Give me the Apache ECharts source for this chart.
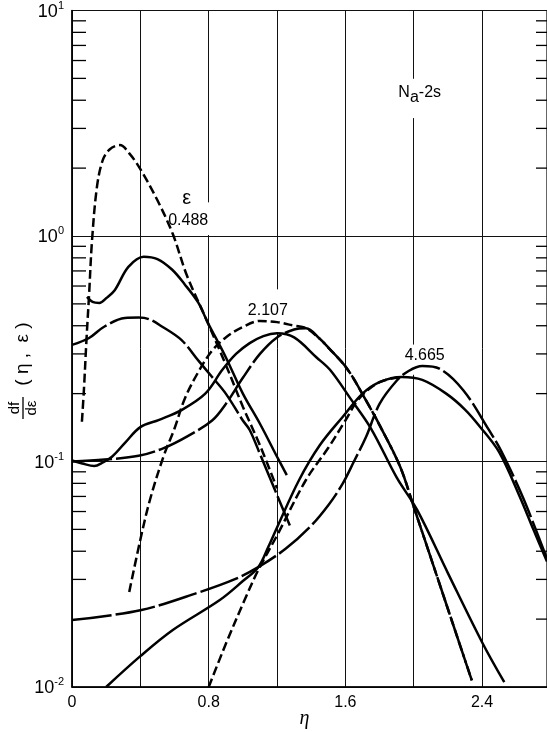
<!DOCTYPE html>
<html><head><meta charset="utf-8">
<script src="https://cdn.jsdelivr.net/npm/echarts@6/dist/echarts.min.js"></script>
<style>html,body{margin:0;padding:0;background:#fff}#c{width:547px;height:732px}</style>
</head><body><div id="c"></div>
<script>
// ---------- data (eta, df/deps) ----------
// epsilon = 0.488
const e488DashX  = [0.058,0.07,0.085,0.1,0.117,0.146,0.18,0.22,0.28,0.34,0.4,0.5,0.59,0.672,0.79,0.906,1.0,1.1,1.2];
const e488DashY  = [0.15,0.21,0.35,0.55,0.95,1.65,2.17,2.42,2.53,2.3,1.98,1.44,1.02,0.67,0.42,0.262,0.175,0.118,0.076];
const e488SolidX = [0.088,0.12,0.16,0.2,0.25,0.33,0.42,0.5,0.585,0.66,0.74,0.79,0.9,1.0,1.1,1.2,1.257];
const e488SolidY = [0.537,0.51,0.505,0.53,0.575,0.73,0.81,0.79,0.71,0.61,0.505,0.42,0.29,0.2,0.147,0.105,0.087];
const e488LongX  = [0,0.1,0.19,0.31,0.39,0.45,0.526,0.64,0.74,0.82,0.9,1.0,1.04,1.1,1.2,1.275];
const e488LongY  = [0.329,0.353,0.397,0.433,0.435,0.428,0.397,0.346,0.28,0.237,0.2,0.152,0.138,0.108,0.071,0.052];
// epsilon = 2.107
const e2107DashX  = [0.335,0.4,0.456,0.535,0.6,0.66,0.74,0.82,0.9,1.0,1.1,1.2,1.3,1.37,1.45,1.5,1.61,1.72,1.8,1.92,2.0,2.13,2.24,2.34];
const e2107DashY  = [0.0264,0.045,0.0675,0.105,0.14,0.19,0.25,0.31,0.355,0.395,0.42,0.415,0.40,0.39,0.35,0.32,0.258,0.187,0.145,0.095,0.063,0.032,0.018,0.0107];
const e2107LongX  = [0,0.19,0.39,0.54,0.68,0.82,0.9,1.0,1.1,1.2,1.3,1.37,1.45,1.5,1.61,1.72,1.8,1.92,2.0,2.13,2.24,2.34];
const e2107LongY  = [0.1,0.102,0.106,0.115,0.13,0.152,0.18,0.235,0.3,0.355,0.385,0.39,0.35,0.32,0.258,0.187,0.145,0.095,0.063,0.032,0.018,0.0107];
const e2107SolidX = [0,0.06,0.13,0.18,0.234,0.31,0.4,0.51,0.64,0.78,0.88,0.96,1.04,1.12,1.2,1.3,1.43,1.51,1.63,1.75,1.9,2.02,2.2,2.4,2.53];
const e2107SolidY = [0.101,0.098,0.0955,0.099,0.105,0.121,0.142,0.153,0.169,0.2,0.255,0.3,0.335,0.36,0.37,0.355,0.29,0.255,0.19,0.14,0.085,0.061,0.032,0.0158,0.0105];
// epsilon = 4.665
const e4665SolidX = [0.2,0.4,0.59,0.865,1.0,1.09,1.15,1.2,1.33,1.45,1.585,1.7,1.8,1.93,2.05,2.19,2.3,2.39,2.5,2.62,2.7,2.78];
const e4665SolidY = [0.01,0.0137,0.0179,0.0243,0.0295,0.034,0.042,0.051,0.083,0.118,0.158,0.2,0.225,0.237,0.23,0.2,0.17,0.142,0.11,0.07,0.05,0.036];
const e4665DashX  = [0.8,0.9,1.01,1.09,1.2,1.37,1.5,1.6,1.68,1.8,1.93];
const e4665DashY  = [0.01,0.0155,0.0243,0.033,0.047,0.083,0.115,0.152,0.19,0.225,0.237];
const e4665LongX  = [0,0.4,0.75,0.95,1.09,1.25,1.39,1.5,1.585,1.65,1.72,1.8,1.9,1.97,2.05,2.15,2.29,2.44,2.51,2.64,2.78];
const e4665LongY  = [0.0198,0.0219,0.0264,0.03,0.034,0.041,0.051,0.064,0.08,0.1,0.128,0.18,0.228,0.252,0.265,0.258,0.207,0.138,0.112,0.069,0.037];
// axes
const etaLabelTicks = [0, 0.8, 1.6, 2.4];
const yMinorLeft  = [0.03,0.04,0.05,0.06,0.07,0.08,0.09,0.2,0.3,0.4,0.5,0.6,0.7,0.8,0.9,2,3,4,5,6,7,8,9];
const yMinorRight = [0.02,0.03,0.04,0.05,0.06,0.07,0.08,0.09,0.2,0.3,0.4,0.5,0.6,0.7,0.8,0.9,2,3,4,5,6,7,8,9];
const curveLabels = [
  {text:'ε',     x:0.672, y:1.47,  size:20},
  {text:'0.488', x:0.68,  y:1.166, size:16},
  {text:'2.107', x:1.146, y:0.465, size:16},
  {text:'4.665', x:2.064, y:0.296, size:16}
];

// ---------- chart ----------
const FONT = 'Liberation Sans, Arial, sans-serif';
const chart = echarts.init(document.getElementById('c'), null, {renderer:'canvas'});
const pairs = (xs, ys) => xs.map((x, i) => [x, ys[i]]);
const SOLID = {color:'#000', width:2.5, type:'solid'};
const DASH  = {color:'#000', width:2.5, type:[9,4]};
const LONG  = {color:'#000', width:2.5, type:[40,4]};
function curve(xs, ys, style){
  return {type:'line', data:pairs(xs, ys), showSymbol:false, symbol:'none', smooth:0.35,
          lineStyle:style, z:3, silent:true, clip:true};
}
function tickSeries(values, side, len){
  return {type:'custom', data:values.map(v => [0, v]), silent:true, clip:false, z:4,
    renderItem(params, api){
      const p = api.coord([0, api.value(1)]);
      const cs = params.coordSys;
      const x0 = side === 'left' ? cs.x : cs.x + cs.width;
      const x1 = side === 'left' ? x0 + len : x0 - len;
      return {type:'line', shape:{x1:x0, y1:p[1], x2:x1, y2:p[1]}, style:{stroke:'#000', lineWidth:1.3}};
    }};
}
const supText = v => {
  const e = Math.round(Math.log10(v));
  return '{b|10}{s|' + (e < 0 ? '-' + (-e) : e) + '}';
};
chart.setOption({
  animation:false,
  backgroundColor:'#fff',
  grid:{left:72, right:0, top:10, bottom:45, show:true, borderColor:'#000', borderWidth:1.2},
  xAxis:{type:'value', min:0, max:2.78, interval:0.4,
    axisLine:{show:true, lineStyle:{color:'#000', width:1.5}},
    axisTick:{show:false},
    axisLabel:{color:'#000', fontSize:16, fontFamily:FONT, margin:8, showMaxLabel:false,
      formatter: v => etaLabelTicks.some(t => Math.abs(t - v) < 1e-6) ? (v === 0 ? '0' : v.toFixed(1)) : ''},
    splitLine:{show:true, lineStyle:{color:'#111', width:1}}},
  yAxis:{type:'log', logBase:10, min:0.01, max:10,
    axisLine:{show:true, lineStyle:{color:'#000', width:1.5}},
    axisTick:{show:false},
    axisLabel:{color:'#000', fontFamily:FONT, margin:8, formatter:supText,
      rich:{b:{fontSize:18, fontFamily:FONT, color:'#000', verticalAlign:'bottom'},
            s:{fontSize:11, fontFamily:FONT, color:'#000', verticalAlign:'bottom', padding:[0,0,10,0]}}},
    splitLine:{show:true, lineStyle:{color:'#111', width:1}},
    minorTick:{show:false}, minorSplitLine:{show:false}},
  series:[
    curve(e488DashX, e488DashY, DASH),
    curve(e488SolidX, e488SolidY, SOLID),
    curve(e488LongX, e488LongY, LONG),
    curve(e2107DashX, e2107DashY, DASH),
    curve(e2107LongX, e2107LongY, LONG),
    curve(e2107SolidX, e2107SolidY, SOLID),
    curve(e4665DashX, e4665DashY, DASH),
    curve(e4665LongX, e4665LongY, LONG),
    curve(e4665SolidX, e4665SolidY, SOLID),
    tickSeries(yMinorLeft, 'left', 14),
    tickSeries(yMinorRight, 'right', 11)
  ]
});

// ---------- annotations ----------
const px = (x, y) => chart.convertToPixel({gridIndex:0}, [x, y]);
const gaps = [[0.8, 1.0, 1.41], [1.2, 0.37, 0.58], [2.0, 0.24, 0.33], [2.0, 3.3, 4.98]];
const graphics = [];
gaps.forEach(g => {
  const a = px(g[0], g[1]), b = px(g[0], g[2]);
  graphics.push({type:'rect', z:1, silent:true,
    shape:{x:a[0]-2, y:b[1], width:4, height:a[1]-b[1]-1}, style:{fill:'#fff'}});
});
curveLabels.forEach(l => {
  const p = px(l.x, l.y);
  graphics.push({type:'text', z:10, x:p[0], y:p[1], silent:true,
    style:{text:l.text, fill:'#000', font:l.size + 'px ' + FONT, align:'center', verticalAlign:'middle',
           textAlign:'center', textVerticalAlign:'middle'}});
});
const na = px(2.035, 4.22);
graphics.push({type:'text', z:10, x:na[0], y:na[1], silent:true,
  style:{text:'{n|N}{a|a}{n|-2s}', align:'center', verticalAlign:'middle', textAlign:'center', textVerticalAlign:'middle',
    rich:{n:{fontSize:16, fontFamily:FONT, fill:'#000', color:'#000', verticalAlign:'bottom', padding:[0,0,5,0]},
          a:{fontSize:16, fontFamily:FONT, fill:'#000', color:'#000', verticalAlign:'bottom'}}}});
const etaPos = px(1.36, 0.01);
graphics.push({type:'text', z:10, x:etaPos[0], y:etaPos[1] + 32, silent:true,
  style:{text:'η', fill:'#000', font:'italic 20px Liberation Serif, serif', align:'center', verticalAlign:'middle',
         textAlign:'center', textVerticalAlign:'middle'}});
graphics.push({type:'group', x:23, y:370, rotation:Math.PI/2, silent:true, z:10, children:[
  {type:'text', x:-38, y:-8, style:{text:'df', fill:'#000', font:'15px ' + FONT, align:'center', verticalAlign:'middle', textAlign:'center', textVerticalAlign:'middle'}},
  {type:'line', shape:{x1:-49, y1:0, x2:-27, y2:0}, style:{stroke:'#000', lineWidth:1.3}},
  {type:'text', x:-38, y:9, style:{text:'dε', fill:'#000', font:'15px ' + FONT, align:'center', verticalAlign:'middle', textAlign:'center', textVerticalAlign:'middle'}},
  {type:'text', x:16, y:0, style:{text:'( η ,  ε )', fill:'#000', font:'19px ' + FONT, align:'center', verticalAlign:'middle', textAlign:'center', textVerticalAlign:'middle'}}
]});
chart.setOption({graphic:graphics});
</script></body></html>
